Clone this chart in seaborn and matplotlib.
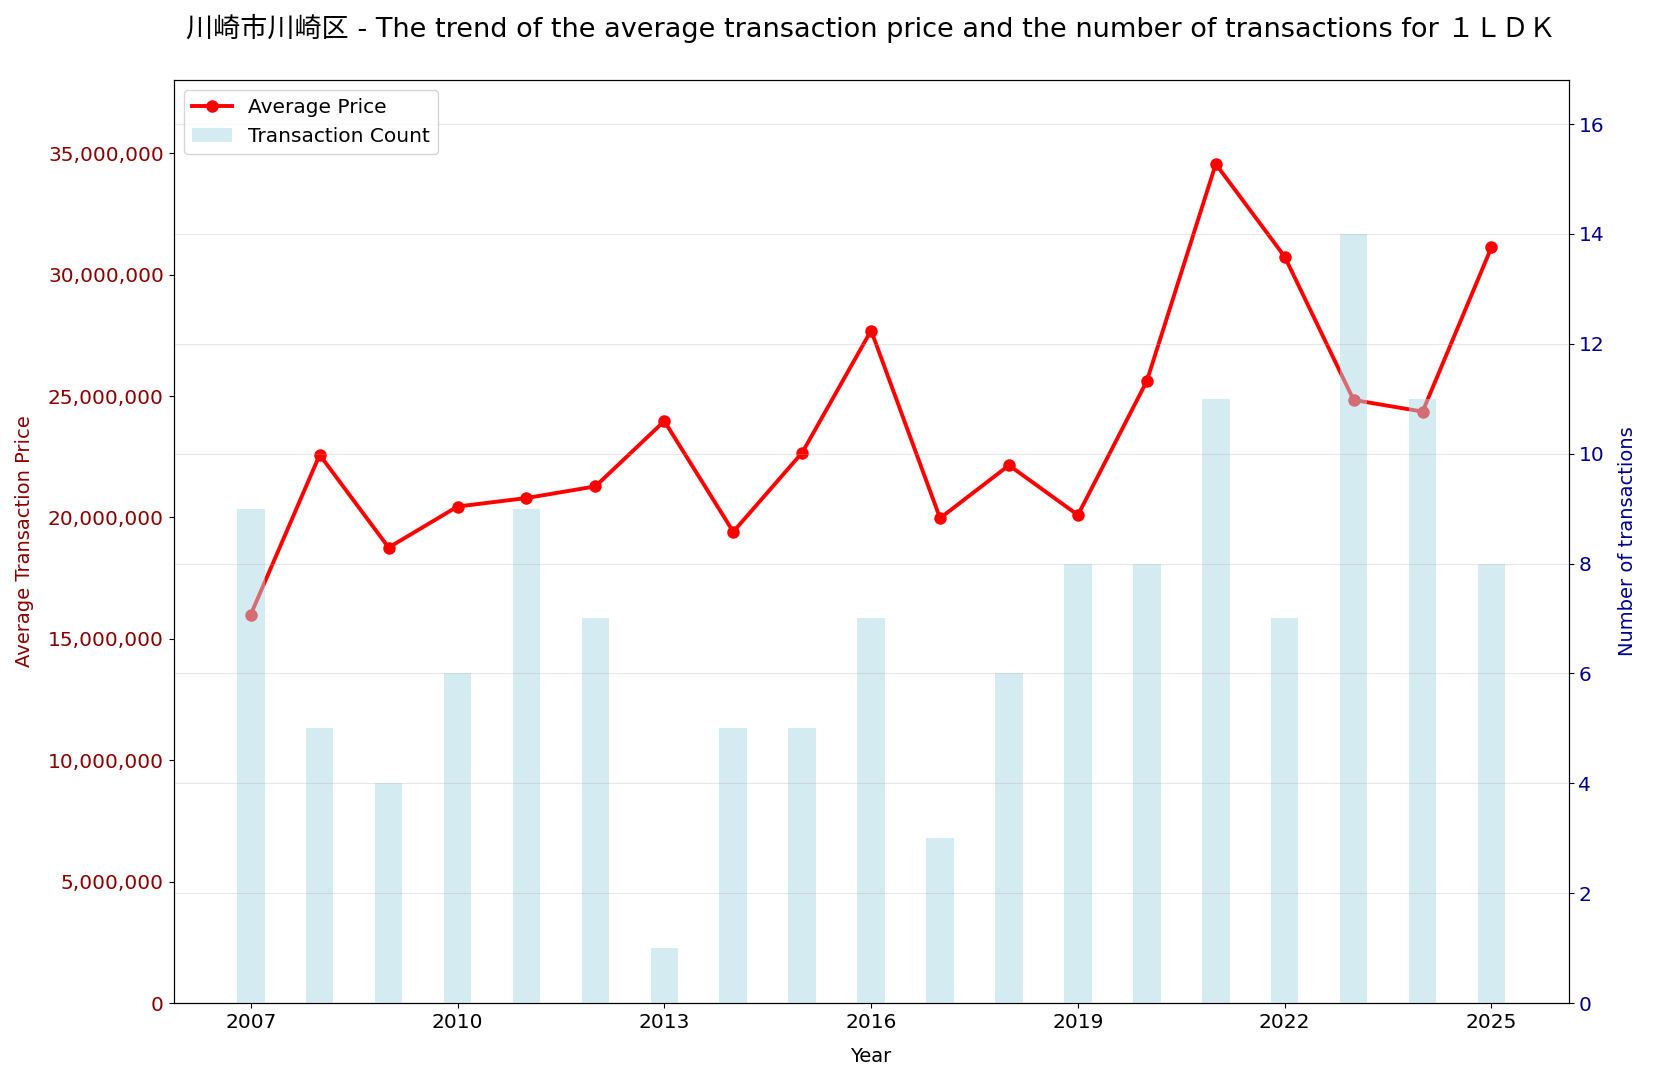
import matplotlib
matplotlib.use("Agg")
import matplotlib.pyplot as plt
import matplotlib.ticker as mticker
import pandas as pd
import seaborn as sns

plt.rcParams['font.family'] = ['DejaVu Sans', 'Noto Sans CJK JP']

years = list(range(2007, 2026))
avg_price = [16.0e6, 22.58e6, 18.76e6, 20.45e6, 20.8e6, 21.28e6, 23.97e6, 19.41e6,
             22.67e6, 27.7e6, 19.97e6, 22.15e6, 20.1e6, 25.62e6, 34.56e6, 30.74e6,
             24.84e6, 24.36e6, 31.13e6]
counts = [9, 5, 4, 6, 9, 7, 1, 5, 5, 7, 3, 6, 8, 8, 11, 7, 14, 11, 8]
xticks = years[::3]

df = pd.DataFrame({'Year': years, 'Price': avg_price, 'Count': counts})

fig, ax1 = plt.subplots(figsize=(16.53, 10.82), dpi=100)
fig.subplots_adjust(left=0.105, right=0.949, top=0.926, bottom=0.073)

sns.lineplot(data=df, x='Year', y='Price', ax=ax1, color='red', linewidth=2.8,
             marker='o', markersize=9, markeredgewidth=0, label='Average Price', legend=False)
ax1.set_ylim(0, max(avg_price) * 1.1)
ax1.set_xlabel('Year', fontsize=14, labelpad=11)
ax1.set_ylabel('Average Transaction Price', color='darkred', fontsize=14, labelpad=10)
ax1.tick_params(axis='y', labelcolor='darkred', labelsize=14.5)
ax1.tick_params(axis='x', labelsize=14.5)
ax1.yaxis.set_major_formatter(mticker.FuncFormatter(lambda v, p: f'{int(v):,}'))

ax2 = ax1.twinx()
sns.barplot(data=df, x='Year', y='Count', ax=ax2, native_scale=True, width=0.4,
            color='lightblue', alpha=0.5, saturation=1, label='Transaction Count')
ax2.set_ylim(0, max(counts) * 1.2)
ax2.set_ylabel('Number of transactions', color='darkblue', fontsize=14, labelpad=10)
ax2.tick_params(axis='y', labelcolor='darkblue', labelsize=14.5)
ax2.grid(True, axis='y', alpha=0.3)
ax2.set_xlabel('')
ax1.set_xticks(xticks)
ax1.set_xticklabels([str(y) for y in xticks])

h1, l1 = ax1.get_legend_handles_labels()
h2, l2 = ax2.get_legend_handles_labels()
ax2.legend(h1 + h2, l1 + l2, loc='upper left', fontsize=14.5)

ax1.set_title('川崎市川崎区 - The trend of the average transaction price and the number of transactions for １ＬＤＫ',
              fontsize=19.5, pad=31)

fig.savefig('out.png', dpi=100)
